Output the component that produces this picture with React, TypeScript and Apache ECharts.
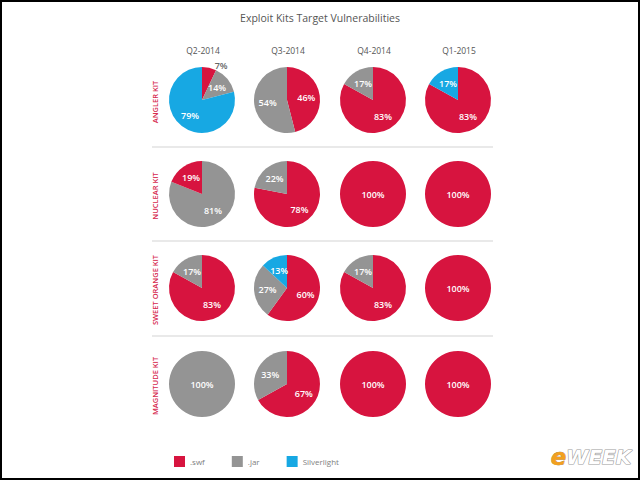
import React, { useEffect, useRef } from "react";
import * as echarts from "echarts";

const quarters = ["Q2-2014", "Q3-2014", "Q4-2014", "Q1-2015"];
const kits = ["ANGLER KIT", "NUCLEAR KIT", "SWEET ORANGE KIT", "MAGNITUDE KIT"];
const categories = [".swf", ".jar", "Silverlight"];
// rows = kits, columns = quarters (percent)
const swfValues = [
  [7, 46, 83, 83],
  [19, 78, 100, 100],
  [83, 60, 83, 100],
  [0, 67, 100, 100],
];
const jarValues = [
  [14, 54, 17, 0],
  [81, 22, 0, 0],
  [17, 27, 17, 0],
  [100, 33, 0, 0],
];
const silverlightValues = [
  [79, 0, 0, 17],
  [0, 0, 0, 0],
  [0, 13, 0, 0],
  [0, 0, 0, 0],
];
// cells where .jar is drawn before .swf (row, column)
const jarFirstCells = [[1, 0]];

const COLORS = ["#D7143F", "#949494", "#17A8E3"];
const FONT = "'Open Sans', 'Noto Sans', sans-serif";

const colX = [202, 287, 373, 458];
const rowY = [100, 194, 288, 384];
const RADIUS = 33;

export default function App() {
  const ref = useRef<HTMLDivElement>(null);
  useEffect(() => {
    if (!ref.current) return;
    const chart = echarts.init(ref.current, null, { renderer: "svg" });
    const valueSets = [swfValues, jarValues, silverlightValues];
    const series: any[] = [];
    kits.forEach((_, r) => {
      quarters.forEach((_, c) => {
        let items = categories
          .map((name, k) => ({ name, value: valueSets[k][r][c], k }))
          .filter((d) => d.value > 0);
        if (jarFirstCells.some(([rr, cc]) => rr === r && cc === c)) {
          items = [...items.filter((d) => d.k === 1), ...items.filter((d) => d.k !== 1)];
        }
        const single = items.length === 1;
        series.push({
          type: "pie",
          center: [colX[c], rowY[r]],
          radius: RADIUS,
          startAngle: 90,
          clockwise: true,
          avoidLabelOverlap: false,
          silent: true,
          label: {
            show: true,
            position: single ? "center" : "inside",
            formatter: "{c}%",
            color: "#ffffff",
            fontSize: 9,
            fontWeight: 600,
            fontFamily: FONT,
          },
          labelLine: { show: false, length: 2, length2: 0 },
          itemStyle: { borderWidth: 0 },
          data: items.map((d) => ({
            name: d.name,
            value: d.value,
            itemStyle: { color: COLORS[d.k] },
            label:
              d.value < 10 && !single
                ? { position: "outside", color: "#666666" }
                : undefined,
          })),
        });
      });
    });

    const graphics: any[] = [
      {
        type: "rect",
        shape: { x: 1, y: 1, width: 638, height: 478 },
        style: { fill: "none", stroke: "#000", lineWidth: 2 },
        silent: true,
      },
    ];
    [147, 241, 336].forEach((y) => {
      graphics.push({
        type: "line",
        shape: { x1: 152, y1: y, x2: 493, y2: y },
        style: { stroke: "#E9E9E9", lineWidth: 2 },
        silent: true,
      });
    });
    kits.forEach((k, r) => {
      graphics.push({
        type: "text",
        x: 155,
        y: rowY[r] + 2,
        rotation: Math.PI / 2,
        style: {
          text: k,
          fill: "#D6294F",
          font: `600 7.5px ${FONT}`,
          align: "center",
          verticalAlign: "middle",
        },
        silent: true,
      });
    });
    quarters.forEach((q, c) => {
      graphics.push({
        type: "text",
        x: colX[c] + 1,
        y: 50,
        style: {
          text: q,
          fill: "#555555",
          font: `8.5px ${FONT}`,
          align: "center",
          verticalAlign: "middle",
        },
        silent: true,
      });
    });
    graphics.push({
      type: "text",
      x: 591,
      y: 457,
      style: {
        text: "{e|e}{w|WEEK}",
        rich: {
          e: {
            fill: "#F2A01F",
            font: `italic bold 23px 'DejaVu Sans', sans-serif`,
            stroke: "#8a5a00",
            lineWidth: 0.5,
          },
          w: {
            fill: "#ffffff",
            font: `italic bold 20px 'DejaVu Sans', sans-serif`,
            stroke: "#9a9a9a",
            lineWidth: 1.2,
          },
        },
        align: "center",
        verticalAlign: "middle",
      },
      silent: true,
    });

    chart.setOption({
      animation: false,
      backgroundColor: "#ffffff",
      title: {
        text: "Exploit Kits Target Vulnerabilities",
        left: "center",
        top: 7,
        textStyle: {
          color: "#555555",
          fontSize: 10.5,
          fontWeight: "normal",
          fontFamily: FONT,
        },
      },
      legend: {
        data: categories,
        left: 169,
        top: 451,
        itemWidth: 11,
        itemHeight: 11,
        itemGap: 27,
        icon: "rect",
        selectedMode: false,
        textStyle: { color: "#808080", fontSize: 8, fontFamily: FONT },
      },
      graphic: graphics,
      series,
    });
    return () => chart.dispose();
  }, []);
  return (
    <div
      ref={ref}
      style={{ position: "absolute", left: 0, top: 0, width: 640, height: 480 }}
    />
  );
}
